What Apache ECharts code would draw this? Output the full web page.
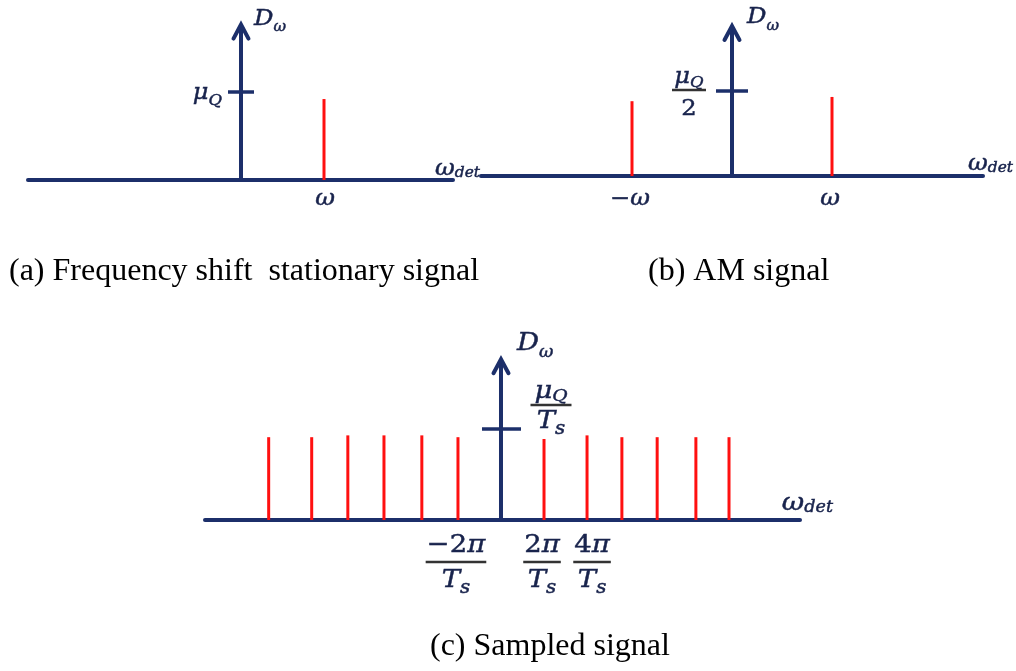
<!DOCTYPE html>
<html>
<head>
<meta charset="utf-8">
<script src="https://cdn.jsdelivr.net/npm/echarts@6/dist/echarts.min.js"></script>
<style>
  html, body { margin: 0; padding: 0; background: #ffffff; }
  #chart { width: 1016px; height: 671px; }
</style>
</head>
<body>
<div id="chart"></div>
<script>
// ---------- data ----------
// (a) frequency shift of a stationary signal: one line at ω
const aRange = [-2.566, 2.554];        // ω axis extent, in units of ω
const aTop = 1.8;                      // D_ω axis extent, in units of μ_Q
const aLevel = 1;                      // μ_Q marked on the D_ω axis
const aLinesX = [1];
const aLinesH = [0.92];
const aTicksX = [1];
const aTickText = ['ω'];

// (b) AM signal: lines at −ω and ω
const bRange = [-2.51, 2.51];
const bTop = 0.9;
const bLevel = 0.5;                    // μ_Q / 2
const bLinesX = [-1, 1];
const bLinesH = [0.44, 0.465];
const bTicksX = [-1, 1];
const bTickText = ['−ω', 'ω'];

// (c) sampled signal, x in units of 2π/T_s, height in units of μ_Q/T_s
const cRange = [-6.88, 6.95];
const cTop = 1.8;
const cLevel = 1;                      // μ_Q / T_s
const cLinesX = [-5.40, -4.40, -3.56, -2.72, -1.84, -1, 1, 2, 2.81, 3.63, 4.53, 5.30];
const cLinesH = [0.91, 0.91, 0.93, 0.93, 0.93, 0.91, 0.89, 0.93, 0.91, 0.91, 0.91, 0.91];
const cTicksX = [-1, 1, 2];
const cTickNum = ['−2', '2', '4'];     // multiples of π

const captions = [
  '(a) Frequency shift  stationary signal',
  '(b) AM signal',
  '(c) Sampled signal'
];

// ---------- drawing helpers ----------
const NAVY = '#1c2f6a';
const RED = '#ff1010';
const INK = '#18234c';
const MATH = '"DejaVu Serif", serif';
const STRETCH = 1.1;   // math glyphs are set a little wide

const ctx2d = document.createElement('canvas').getContext('2d');
function textWidth(str, font) { ctx2d.font = font; return ctx2d.measureText(str).width; }
function mathFont(size, italic) { return (italic === false ? '' : 'italic ') + size + 'px ' + MATH; }

function textEl(str, x, y, font, fill) {
  return {
    type: 'text', x: x, y: y, scaleX: STRETCH,
    style: { text: str, x: 0, y: 0, font: font, fill: fill, stroke: fill, lineWidth: 0.45,
             align: 'left', verticalAlign: 'middle' }
  };
}

// a symbol with an optional subscript; y is the middle of the main glyph line
function symbol(x, y, main, sub, o) {
  const size = o.size;
  const subSize = o.subSize || Math.round(size * 0.62);
  const fMain = mathFont(size, o.italic);
  const fSub = mathFont(subSize, true);
  const gap = o.subGap || 0;
  const wMain = textWidth(main, fMain) * STRETCH;
  const wSub = sub ? (textWidth(sub, fSub) + gap) * STRETCH : 0;
  const w = wMain + wSub;
  let left = x;
  if (o.align === 'center') left = x - w / 2;
  else if (o.align === 'right') left = x - w;
  const fill = o.color || INK;
  const els = [textEl(main, left, y, fMain, fill)];
  if (sub) {
    els.push(textEl(sub, left + wMain + gap * STRETCH,
      y + (o.subDy != null ? o.subDy : size * 0.35), fSub, fill));
  }
  return { els: els, w: w };
}

function fraction(cx, barY, num, den, o) {
  const n = symbol(cx, barY - o.numDy, num[0], num[1], Object.assign({ align: 'center' }, o.num));
  const d = symbol(cx, barY + o.denDy, den[0], den[1], Object.assign({ align: 'center' }, o.den));
  const w = o.barW || Math.max(n.w, d.w) + 2;
  return n.els.concat([{
    type: 'line',
    shape: { x1: cx - w / 2, y1: barY, x2: cx + w / 2, y2: barY },
    style: { stroke: o.barColor || '#333333', lineWidth: 2.4 }
  }], d.els);
}

// red spectral lines
function linesSeries(idx, xs, hs) {
  return {
    type: 'custom', xAxisIndex: idx, yAxisIndex: idx, z: 2,
    data: xs.map((x, i) => [x, hs[i]]),
    renderItem: (params, api) => {
      const p0 = api.coord([api.value(0), 0]);
      const p1 = api.coord([api.value(0), api.value(1)]);
      return {
        type: 'line',
        shape: { x1: p0[0], y1: p0[1], x2: p1[0], y2: p1[1] },
        style: { stroke: RED, lineWidth: 3 }
      };
    }
  };
}

// D_ω axis with arrow head, level tick, and the axis names
function ordinateSeries(idx, top, level, xEnd, o) {
  return {
    type: 'custom', xAxisIndex: idx, yAxisIndex: idx, z: 3,
    data: [[0, top, level, xEnd]],
    renderItem: (params, api) => {
      const base = api.coord([0, 0]);
      const tip = api.coord([0, api.value(1)]);
      const lv = api.coord([0, api.value(2)]);
      const end = api.coord([api.value(3), 0]);
      const x = base[0];
      let children = [
        { type: 'line', shape: { x1: x, y1: base[1], x2: x, y2: tip[1] + 3 },
          style: { stroke: NAVY, lineWidth: 4 } },
        { type: 'polyline', shape: { points: [[x - 7.5, tip[1] + 17], [x, tip[1] + 3], [x + 7.5, tip[1] + 17]] },
          style: { stroke: NAVY, lineWidth: 4, fill: null, lineJoin: 'miter', lineCap: 'round' } },
        { type: 'line', shape: { x1: x - o.tickL, y1: lv[1], x2: x + o.tickR, y2: lv[1] },
          style: { stroke: NAVY, lineWidth: 3.5 } }
      ];
      // D_ω
      children = children.concat(symbol(x + o.dDx, tip[1] + o.dDy, 'D', 'ω',
        { size: o.dSize, subSize: o.dSub, subDy: o.dSubDy }).els);
      // ω_det
      children = children.concat(symbol(end[0] + o.wDx, end[1] + o.wDy, 'ω', 'det',
        { size: o.wSize, subSize: o.wSub, subDy: o.wSubDy, align: 'right' }).els);
      // level label
      children = children.concat(o.levelLabel(x, lv[1]));
      return { type: 'group', children: children };
    }
  };
}

// labels under the ω axis
function tickSeries(idx, xs, draw) {
  return {
    type: 'custom', xAxisIndex: idx, yAxisIndex: idx, z: 3,
    data: xs.map((x, i) => [x, i]),
    renderItem: (params, api) => {
      const p = api.coord([api.value(0), 0]);
      return { type: 'group', children: draw(p[0], p[1], api.value(1)) };
    }
  };
}

// ---------- layout ----------
const grids = [
  { left: 28, top: 21.6, width: 425, height: 158.4 },
  { left: 481, top: 23, width: 502, height: 153 },
  { left: 205, top: 356.2, width: 595, height: 163.8 }
];
const ranges = [aRange, bRange, cRange];
const tops = [aTop, bTop, cTop];
const cLabelNudge = [-2, -2, 5];      // horizontal nudge of the fraction labels, px

const xAxes = ranges.map((r, i) => ({
  type: 'value', gridIndex: i, min: r[0], max: r[1],
  axisLine: { show: true, onZero: false, lineStyle: { color: NAVY, width: 4 } },
  axisTick: { show: false }, axisLabel: { show: false }, splitLine: { show: false }
}));
const yAxes = tops.map((t, i) => ({
  type: 'value', gridIndex: i, min: 0, max: t, show: false
}));

const series = [
  linesSeries(0, aLinesX, aLinesH),
  linesSeries(1, bLinesX, bLinesH),
  linesSeries(2, cLinesX, cLinesH),

  ordinateSeries(0, aTop, aLevel, aRange[1], {
    tickL: 13, tickR: 13,
    dDx: 13, dDy: -2, dSize: 22, dSub: 14, dSubDy: 8,
    wDx: 27, wDy: -11, wSize: 22, wSub: 14, wSubDy: 4,
    levelLabel: (x, y) => symbol(x - 19, y + 1, 'μ', 'Q', { size: 22, subSize: 15, subDy: 8, align: 'right' }).els
  }),
  ordinateSeries(1, bTop, bLevel, bRange[1], {
    tickL: 16, tickR: 16,
    dDx: 15, dDy: -6, dSize: 22, dSub: 14, dSubDy: 9,
    wDx: 30, wDy: -12, wSize: 22, wSub: 14, wSubDy: 4,
    levelLabel: (x, y) => fraction(x - 43, y - 1, ['μ', 'Q'], ['2', null], {
      numDy: 13, denDy: 19, barW: 34,
      num: { size: 22, subSize: 15, subDy: 6 },
      den: { size: 22, italic: false }
    })
  }),
  ordinateSeries(2, cTop, cLevel, cRange[1], {
    tickL: 19, tickR: 20,
    dDx: 16, dDy: -13, dSize: 25, dSub: 16, dSubDy: 10,
    wDx: 33, wDy: -17, wSize: 25, wSub: 16, wSubDy: 5,
    levelLabel: (x, y) => fraction(x + 50, y - 24, ['μ', 'Q'], ['T', 's'], {
      numDy: 14, denDy: 16, barW: 41,
      num: { size: 25, subSize: 17, subDy: 6 },
      den: { size: 25, subSize: 18, subDy: 8 }
    })
  }),

  tickSeries(0, aTicksX, (x, y, i) => symbol(x + 1, y + 19, aTickText[i], null, { size: 22, align: 'center' }).els),
  tickSeries(1, bTicksX, (x, y, i) => symbol(x - 2, y + 23, bTickText[i], null, { size: 22, align: 'center' }).els),
  tickSeries(2, cTicksX, (x, y, i) => fraction(x + cLabelNudge[i], y + 42, [cTickNum[i], 'π'], ['T', 's'], {
    numDy: 17, denDy: 18,
    num: { size: 25, italic: false, subSize: 25, subDy: 0 },
    den: { size: 25, subSize: 18, subDy: 8 }
  }))
];

const captionStyle = { fontFamily: '"Liberation Serif", serif', fontSize: 32, fontWeight: 'normal', color: '#000000' };
const title = [
  { text: captions[0], left: 9, top: 256, padding: 0, textStyle: captionStyle },
  { text: captions[1], left: 648, top: 256, padding: 0, textStyle: captionStyle },
  { text: captions[2], left: 430, top: 631, padding: 0, textStyle: captionStyle }
];

const chart = echarts.init(document.getElementById('chart'), null, { renderer: 'canvas' });
chart.setOption({
  animation: false,
  backgroundColor: '#ffffff',
  title: title,
  grid: grids,
  xAxis: xAxes,
  yAxis: yAxes,
  series: series
});
</script>
</body>
</html>
